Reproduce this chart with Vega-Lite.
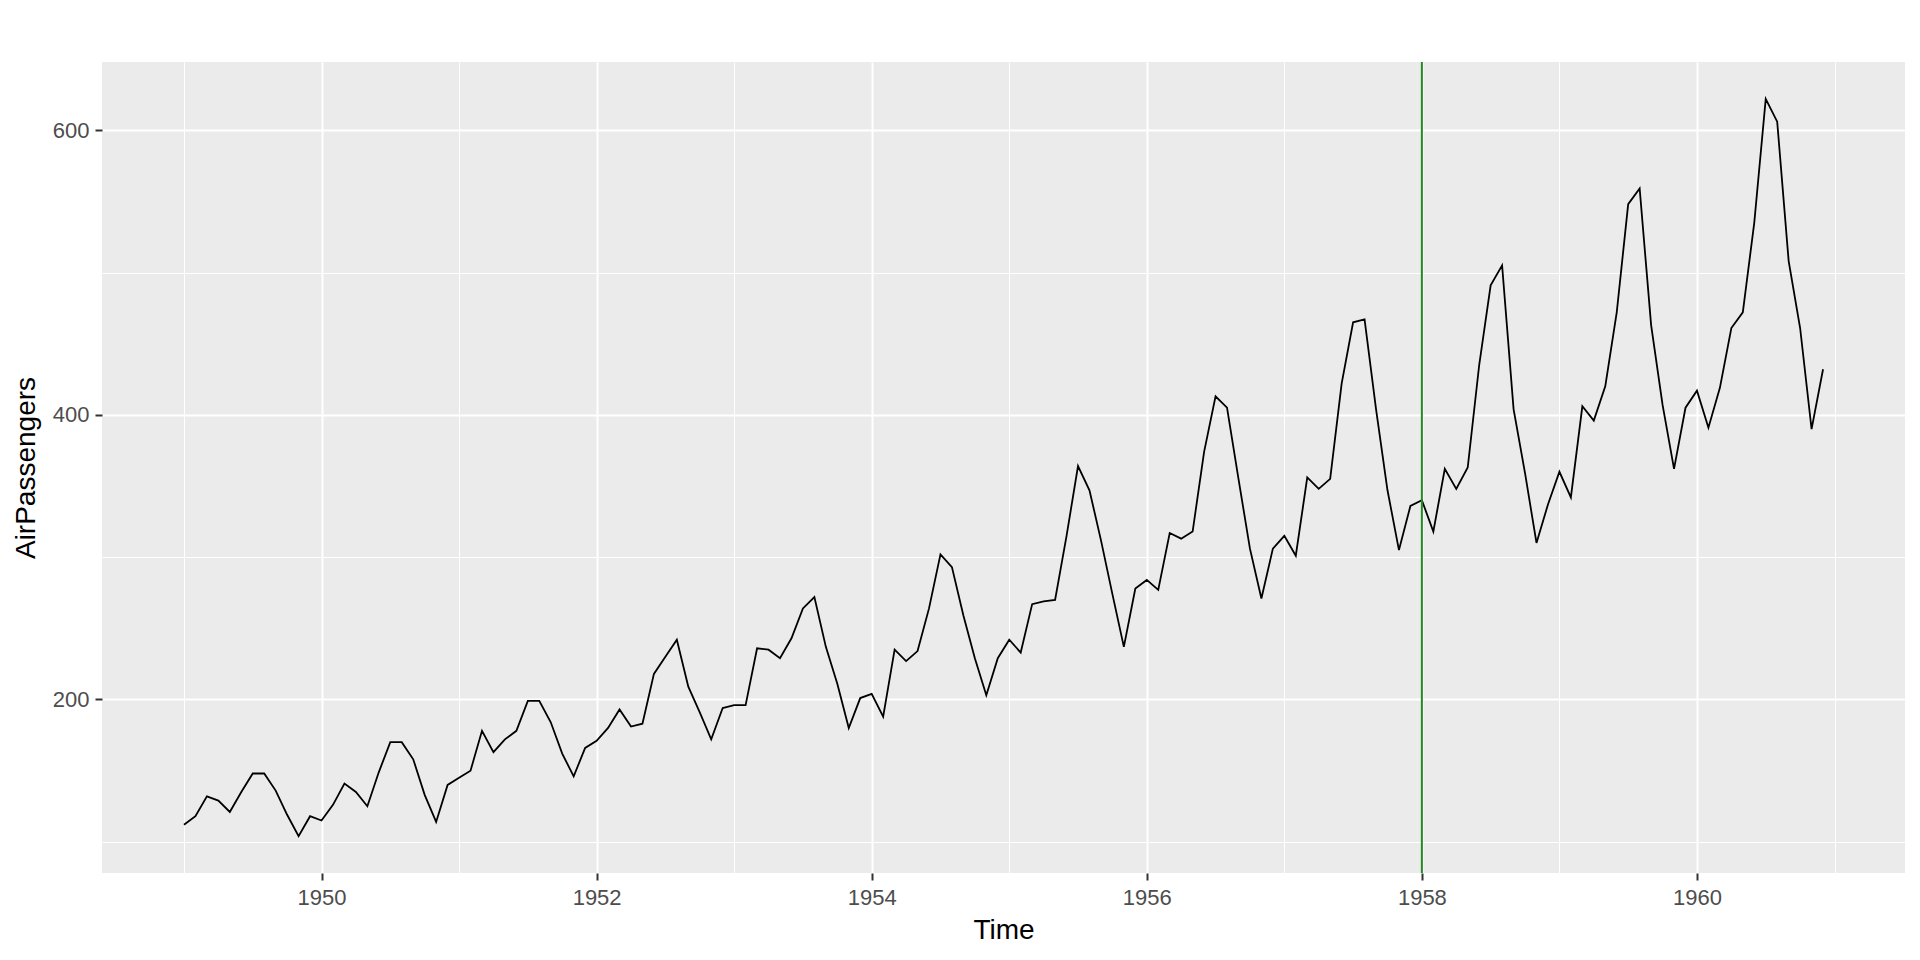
{
  "$schema": "https://vega.github.io/schema/vega-lite/v6.json",
  "autosize": "none",
  "width": 1803,
  "height": 811,
  "padding": {"left": 102, "top": 62, "right": 15, "bottom": 87},
  "background": "white",
  "config": {
    "view": {"stroke": null, "fill": "#EBEBEB"},
    "font": "Liberation Sans"
  },
  "datasets": {
    "air": [
      {"t":1949,"v":112},{"t":1949.0833,"v":118},{"t":1949.1667,"v":132},{"t":1949.25,"v":129},{"t":1949.3333,"v":121},{"t":1949.4167,"v":135},{"t":1949.5,"v":148},{"t":1949.5833,"v":148},{"t":1949.6667,"v":136},{"t":1949.75,"v":119},{"t":1949.8333,"v":104},{"t":1949.9167,"v":118},
      {"t":1950,"v":115},{"t":1950.0833,"v":126},{"t":1950.1667,"v":141},{"t":1950.25,"v":135},{"t":1950.3333,"v":125},{"t":1950.4167,"v":149},{"t":1950.5,"v":170},{"t":1950.5833,"v":170},{"t":1950.6667,"v":158},{"t":1950.75,"v":133},{"t":1950.8333,"v":114},{"t":1950.9167,"v":140},
      {"t":1951,"v":145},{"t":1951.0833,"v":150},{"t":1951.1667,"v":178},{"t":1951.25,"v":163},{"t":1951.3333,"v":172},{"t":1951.4167,"v":178},{"t":1951.5,"v":199},{"t":1951.5833,"v":199},{"t":1951.6667,"v":184},{"t":1951.75,"v":162},{"t":1951.8333,"v":146},{"t":1951.9167,"v":166},
      {"t":1952,"v":171},{"t":1952.0833,"v":180},{"t":1952.1667,"v":193},{"t":1952.25,"v":181},{"t":1952.3333,"v":183},{"t":1952.4167,"v":218},{"t":1952.5,"v":230},{"t":1952.5833,"v":242},{"t":1952.6667,"v":209},{"t":1952.75,"v":191},{"t":1952.8333,"v":172},{"t":1952.9167,"v":194},
      {"t":1953,"v":196},{"t":1953.0833,"v":196},{"t":1953.1667,"v":236},{"t":1953.25,"v":235},{"t":1953.3333,"v":229},{"t":1953.4167,"v":243},{"t":1953.5,"v":264},{"t":1953.5833,"v":272},{"t":1953.6667,"v":237},{"t":1953.75,"v":211},{"t":1953.8333,"v":180},{"t":1953.9167,"v":201},
      {"t":1954,"v":204},{"t":1954.0833,"v":188},{"t":1954.1667,"v":235},{"t":1954.25,"v":227},{"t":1954.3333,"v":234},{"t":1954.4167,"v":264},{"t":1954.5,"v":302},{"t":1954.5833,"v":293},{"t":1954.6667,"v":259},{"t":1954.75,"v":229},{"t":1954.8333,"v":203},{"t":1954.9167,"v":229},
      {"t":1955,"v":242},{"t":1955.0833,"v":233},{"t":1955.1667,"v":267},{"t":1955.25,"v":269},{"t":1955.3333,"v":270},{"t":1955.4167,"v":315},{"t":1955.5,"v":364},{"t":1955.5833,"v":347},{"t":1955.6667,"v":312},{"t":1955.75,"v":274},{"t":1955.8333,"v":237},{"t":1955.9167,"v":278},
      {"t":1956,"v":284},{"t":1956.0833,"v":277},{"t":1956.1667,"v":317},{"t":1956.25,"v":313},{"t":1956.3333,"v":318},{"t":1956.4167,"v":374},{"t":1956.5,"v":413},{"t":1956.5833,"v":405},{"t":1956.6667,"v":355},{"t":1956.75,"v":306},{"t":1956.8333,"v":271},{"t":1956.9167,"v":306},
      {"t":1957,"v":315},{"t":1957.0833,"v":301},{"t":1957.1667,"v":356},{"t":1957.25,"v":348},{"t":1957.3333,"v":355},{"t":1957.4167,"v":422},{"t":1957.5,"v":465},{"t":1957.5833,"v":467},{"t":1957.6667,"v":404},{"t":1957.75,"v":347},{"t":1957.8333,"v":305},{"t":1957.9167,"v":336},
      {"t":1958,"v":340},{"t":1958.0833,"v":318},{"t":1958.1667,"v":362},{"t":1958.25,"v":348},{"t":1958.3333,"v":363},{"t":1958.4167,"v":435},{"t":1958.5,"v":491},{"t":1958.5833,"v":505},{"t":1958.6667,"v":404},{"t":1958.75,"v":359},{"t":1958.8333,"v":310},{"t":1958.9167,"v":337},
      {"t":1959,"v":360},{"t":1959.0833,"v":342},{"t":1959.1667,"v":406},{"t":1959.25,"v":396},{"t":1959.3333,"v":420},{"t":1959.4167,"v":472},{"t":1959.5,"v":548},{"t":1959.5833,"v":559},{"t":1959.6667,"v":463},{"t":1959.75,"v":407},{"t":1959.8333,"v":362},{"t":1959.9167,"v":405},
      {"t":1960,"v":417},{"t":1960.0833,"v":391},{"t":1960.1667,"v":419},{"t":1960.25,"v":461},{"t":1960.3333,"v":472},{"t":1960.4167,"v":535},{"t":1960.5,"v":622},{"t":1960.5833,"v":606},{"t":1960.6667,"v":508},{"t":1960.75,"v":461},{"t":1960.8333,"v":390},{"t":1960.9167,"v":432}
    ],
    "marker": [{"t": 1958}]
  },
  "layer": [
    {
      "data": {"name": "air"},
      "mark": {"type": "line", "color": "black", "strokeWidth": 1.8},
      "encoding": {
        "x": {
          "field": "t", "type": "quantitative",
          "scale": {"domain": [1948.404, 1961.5125], "nice": false, "zero": false},
          "axis": {
            "title": "Time",
            "values": [1949,1950,1951,1952,1953,1954,1955,1956,1957,1958,1959,1960,1961],
            "format": "d",
            "labelExpr": "datum.value % 2 == 0 ? datum.label : ''",
            "labelOverlap": false,
            "labelBound": false,
            "labelFlush": false,
            "labelFontSize": 22,
            "labelColor": "#4D4D4D",
            "labelPadding": 7,
            "domain": false,
            "tickColor": "#333333",
            "tickWidth": 2,
            "tickSize": 7,
            "tickOpacity": {"condition": {"test": "datum.value % 2 == 0", "value": 1}, "value": 0},
            "grid": true,
            "gridColor": "white",
            "gridWidth": {"condition": {"test": "datum.value % 2 == 0", "value": 2}, "value": 1},
            "titleFontSize": 28,
            "titleFontWeight": "normal",
            "titleColor": "black",
            "titlePadding": 8
          }
        },
        "y": {
          "field": "v", "type": "quantitative",
          "scale": {"domain": [78.1, 647.9], "nice": false, "zero": false},
          "axis": {
            "title": "AirPassengers",
            "values": [100,200,300,400,500,600],
            "format": "d",
            "labelExpr": "datum.value % 200 == 0 ? datum.label : ''",
            "labelOverlap": false,
            "labelBound": false,
            "labelFlush": false,
            "labelFontSize": 22,
            "labelColor": "#4D4D4D",
            "labelPadding": 6,
            "domain": false,
            "tickColor": "#333333",
            "tickWidth": 2,
            "tickSize": 7,
            "tickOpacity": {"condition": {"test": "datum.value % 200 == 0", "value": 1}, "value": 0},
            "grid": true,
            "gridColor": "white",
            "gridWidth": {"condition": {"test": "datum.value % 200 == 0", "value": 2}, "value": 1},
            "titleFontSize": 28,
            "titleFontWeight": "normal",
            "titleColor": "black",
            "titlePadding": 12
          }
        }
      }
    },
    {
      "data": {"name": "marker"},
      "mark": {"type": "rule", "color": "#228B22", "strokeWidth": 2},
      "encoding": {
        "x": {"field": "t", "type": "quantitative"}
      }
    }
  ]
}
